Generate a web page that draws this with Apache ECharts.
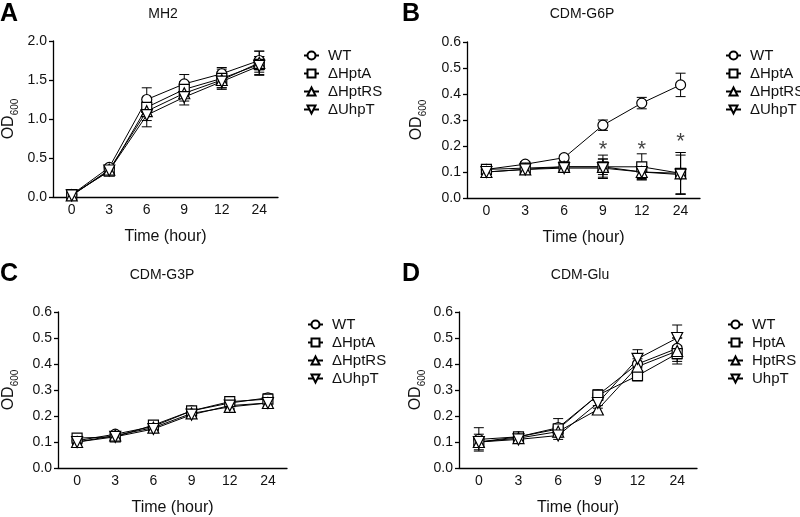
<!DOCTYPE html>
<html>
<head>
<meta charset="utf-8">
<script src="https://cdn.jsdelivr.net/npm/echarts@6/dist/echarts.min.js"></script>
<style>
  html, body { margin: 0; padding: 0; background: #fff; }
  #chart { width: 800px; height: 517px; }
</style>
</head>
<body>
<div id="chart"></div>
<script>
const times = ['0', '3', '6', '9', '12', '24']
const strainsDelta = ['WT', 'ΔHptA', 'ΔHptRS', 'ΔUhpT']
const strainsPlain = ['WT', 'HptA', 'HptRS', 'UhpT']

// A: MH2
const mh2WT = [0.03, 0.38, 1.25, 1.45, 1.58, 1.75]
const mh2HptA = [0.03, 0.33, 1.15, 1.38, 1.52, 1.70]
const mh2HptRS = [0.02, 0.35, 1.10, 1.33, 1.50, 1.72]
const mh2UhpT = [0.02, 0.34, 1.05, 1.28, 1.48, 1.68]
const mh2WTsd = [0.01, 0.03, 0.15, 0.12, 0.08, 0.12]
const mh2HptAsd = [0.01, 0.03, 0.10, 0.10, 0.12, 0.10]
const mh2HptRSsd = [0.01, 0.03, 0.12, 0.10, 0.10, 0.15]
const mh2UhpTsd = [0.01, 0.03, 0.15, 0.10, 0.10, 0.12]

// B: CDM-G6P
const g6pWT = [0.11, 0.13, 0.155, 0.28, 0.365, 0.435]
const g6pHptA = [0.11, 0.115, 0.12, 0.12, 0.12, 0.095]
const g6pHptRS = [0.10, 0.11, 0.12, 0.12, 0.10, 0.095]
const g6pUhpT = [0.10, 0.11, 0.115, 0.115, 0.10, 0.09]
const g6pWTsd = [0.01, 0.01, 0.01, 0.02, 0.022, 0.045]
const g6pHptAsd = [0.01, 0.01, 0.01, 0.045, 0.05, 0.08]
const g6pHptRSsd = [0.01, 0.01, 0.01, 0.03, 0.025, 0.08]
const g6pUhpTsd = [0.01, 0.01, 0.01, 0.035, 0.03, 0.075]
const g6pStars = [[3, 0.185], [4, 0.185], [5, 0.215]]

// C: CDM-G3P
const g3pWT = [0.105, 0.13, 0.16, 0.22, 0.25, 0.27]
const g3pHptA = [0.115, 0.12, 0.165, 0.22, 0.255, 0.265]
const g3pHptRS = [0.10, 0.125, 0.155, 0.21, 0.235, 0.25]
const g3pUhpT = [0.10, 0.12, 0.15, 0.205, 0.24, 0.25]
const g3pWTsd = [0.01, 0.01, 0.01, 0.012, 0.012, 0.015]
const g3pHptAsd = [0.01, 0.01, 0.01, 0.012, 0.012, 0.015]
const g3pHptRSsd = [0.01, 0.01, 0.01, 0.01, 0.012, 0.012]
const g3pUhpTsd = [0.01, 0.01, 0.01, 0.01, 0.012, 0.012]

// D: CDM-Glu
const gluWT = [0.11, 0.12, 0.155, 0.28, 0.40, 0.46]
const gluHptA = [0.10, 0.12, 0.15, 0.28, 0.355, 0.44]
const gluHptRS = [0.10, 0.115, 0.14, 0.225, 0.39, 0.45]
const gluUhpT = [0.10, 0.11, 0.125, 0.25, 0.42, 0.50]
const gluWTsd = [0.045, 0.01, 0.035, 0.02, 0.03, 0.04]
const gluHptAsd = [0.03, 0.01, 0.02, 0.02, 0.02, 0.03]
const gluHptRSsd = [0.01, 0.01, 0.015, 0.015, 0.03, 0.05]
const gluUhpTsd = [0.01, 0.01, 0.015, 0.02, 0.035, 0.05]

const FONT = 'Liberation Sans, Arial, sans-serif'
const symbols = ['circle', 'rect', 'triangle', 'triangle']
const rotates = [0, 0, 0, 180]

const panels = [
  { names: strainsDelta, means: [mh2WT, mh2HptA, mh2HptRS, mh2UhpT], sds: [mh2WTsd, mh2HptAsd, mh2HptRSsd, mh2UhpTsd], max: 2, interval: 0.5 },
  { names: strainsDelta, means: [g6pWT, g6pHptA, g6pHptRS, g6pUhpT], sds: [g6pWTsd, g6pHptAsd, g6pHptRSsd, g6pUhpTsd], max: 0.6, interval: 0.1 },
  { names: strainsDelta, means: [g3pWT, g3pHptA, g3pHptRS, g3pUhpT], sds: [g3pWTsd, g3pHptAsd, g3pHptRSsd, g3pUhpTsd], max: 0.6, interval: 0.1 },
  { names: strainsPlain, means: [gluWT, gluHptA, gluHptRS, gluUhpT], sds: [gluWTsd, gluHptAsd, gluHptRSsd, gluUhpTsd], max: 0.6, interval: 0.1 }
]

const grids = [
  { left: 43, top: 41, width: 235, height: 156 },
  { left: 467, top: 42, width: 233, height: 156 },
  { left: 48, top: 312, width: 239, height: 156 },
  { left: 459, top: 312, width: 238, height: 156 }
]
const nameGaps = [36, 42, 41, 35]
const legendPos = [[298, 43], [720, 43], [302, 312], [722, 312]]
const labels = [
  ['A', 0, 2, 'MH2', 163, 14],
  ['B', 402, 2, 'CDM-G6P', 582, 14],
  ['C', 0, 262, 'CDM-G3P', 162, 275],
  ['D', 402, 262, 'CDM-Glu', 580, 275]
]

// 误差线: 竖线 + 上下横帽
function errorBar (params, api) {
  const x = api.value(0)
  const hi = api.coord([x, api.value(2)])
  const lo = api.coord([x, api.value(1)])
  const w = 5
  const style = { stroke: '#000', lineWidth: 1 }
  return {
    type: 'group',
    children: [
      { type: 'line', shape: { x1: hi[0], y1: hi[1], x2: lo[0], y2: lo[1] }, style },
      { type: 'line', shape: { x1: hi[0] - w, y1: hi[1], x2: hi[0] + w, y2: hi[1] }, style },
      { type: 'line', shape: { x1: lo[0] - w, y1: lo[1], x2: lo[0] + w, y2: lo[1] }, style }
    ]
  }
}

const axisText = { color: '#111', fontSize: 14, fontFamily: FONT }
const xAxis = []
const yAxis = []
const series = []
const legend = []
const graphic = []

panels.forEach((p, gi) => {
  xAxis.push({
    type: 'category',
    gridIndex: gi,
    data: times,
    boundaryGap: true,
    name: 'Time (hour)',
    nameLocation: 'middle',
    nameGap: 32,
    nameTextStyle: { color: '#111', fontSize: 16, fontFamily: FONT },
    axisLine: { lineStyle: { color: '#000', width: 1.3 } },
    axisTick: { alignWithLabel: true, length: 4, lineStyle: { color: '#000', width: 1.3 } },
    axisLabel: { ...axisText, margin: 6 },
    splitLine: { show: false }
  })
  yAxis.push({
    type: 'value',
    gridIndex: gi,
    min: 0,
    max: p.max,
    interval: p.interval,
    name: '{a|OD}{b|600}',
    nameLocation: 'middle',
    nameRotate: 90,
    nameGap: nameGaps[gi],
    nameTextStyle: {
      fontFamily: FONT,
      rich: {
        a: { fontSize: 16, color: '#111', fontFamily: FONT, lineHeight: 18, verticalAlign: 'bottom' },
        b: { fontSize: 10, color: '#111', fontFamily: FONT, lineHeight: 18, verticalAlign: 'bottom', padding: [0, 0, -3, 0] }
      }
    },
    axisLine: { show: true, lineStyle: { color: '#000', width: 1.3 } },
    axisTick: { show: true, length: 4, lineStyle: { color: '#000', width: 1.3 } },
    axisLabel: { ...axisText, margin: 6, formatter: v => v.toFixed(1) },
    splitLine: { show: false }
  })

  // error bars first so markers sit on top
  p.means.forEach((m, si) => {
    series.push({
      type: 'custom',
      name: 'err' + gi + si,
      xAxisIndex: gi,
      yAxisIndex: gi,
      renderItem: errorBar,
      encode: { x: 0, y: [1, 2] },
      data: m.map((v, i) => [i, v - p.sds[si][i], v + p.sds[si][i]]),
      z: 1,
      silent: true
    })
  })
  p.means.forEach((m, si) => {
    series.push({
      type: 'line',
      name: p.names[si],
      xAxisIndex: gi,
      yAxisIndex: gi,
      data: m,
      symbol: symbols[si],
      symbolRotate: rotates[si],
      symbolSize: si >= 2 ? 11 : 10,
      showAllSymbol: true,
      lineStyle: { color: '#000', width: 1 },
      itemStyle: { color: '#fff', borderColor: '#000', borderWidth: 1.2 },
      z: 3,
      animation: false
    })
  })

  legend.push({
    orient: 'vertical',
    left: legendPos[gi][0],
    top: legendPos[gi][1],
    data: p.names,
    itemWidth: 15,
    itemHeight: 10,
    itemGap: 3,
    selectedMode: false,
    textStyle: { color: '#111', fontSize: 15, fontFamily: FONT, padding: [0, 0, 0, 4] }
  })

  const [letter, lx, ly, title, tx, ty] = labels[gi]
  graphic.push({
    type: 'text', left: lx, top: ly,
    style: { text: letter, font: 'bold 25px ' + FONT, fill: '#000' }
  })
  graphic.push({
    type: 'text', x: tx, y: ty,
    style: { text: title, font: '14px ' + FONT, fill: '#111', textAlign: 'center', textVerticalAlign: 'middle' }
  })
})

series.push({
  type: 'scatter',
  name: 'stars',
  xAxisIndex: 1,
  yAxisIndex: 1,
  data: g6pStars,
  symbolSize: 0,
  label: { show: true, formatter: '*', position: 'inside', fontSize: 22, color: '#111', fontFamily: FONT },
  silent: true
})

const chart = echarts.init(document.getElementById('chart'), null, { renderer: 'canvas' })
chart.setOption({
  backgroundColor: '#fff',
  animation: false,
  grid: grids,
  xAxis,
  yAxis,
  legend,
  graphic,
  series
})
</script>
</body>
</html>
